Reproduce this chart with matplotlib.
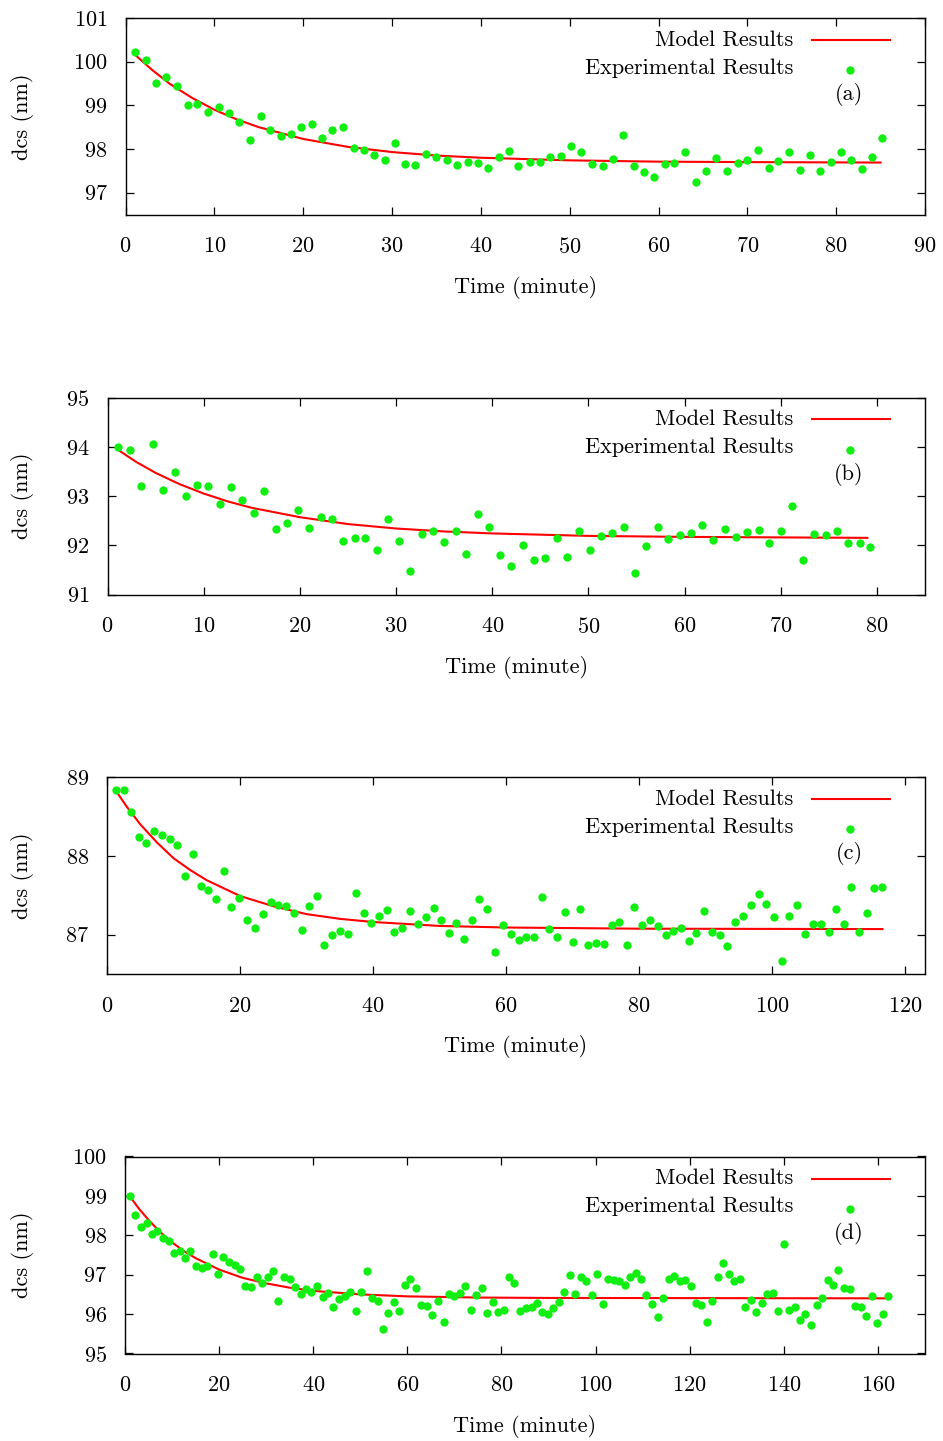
import numpy as np
import matplotlib
matplotlib.use("Agg")
import matplotlib.pyplot as plt

plt.rcParams['font.family'] = ['cmr10', 'DejaVu Serif']
plt.rcParams['mathtext.fontset'] = 'cm'
plt.rcParams['axes.unicode_minus'] = False
plt.rcParams['axes.formatter.use_mathtext'] = True

# ---- panel (a) ----
ta = [1.1, 2.3, 3.4, 4.6, 5.8, 7.0, 8.1, 9.3, 10.5, 11.6, 12.8, 14.0, 15.2, 16.3, 17.5,
      18.6, 19.8, 21.0, 22.1, 23.3, 24.5, 25.7, 26.8, 28.0, 29.2, 30.3, 31.5, 32.6, 33.8,
      35.0, 36.2, 37.3, 38.5, 39.7, 40.8, 42.0, 43.2, 44.2, 45.5, 46.7, 47.8, 49.0, 50.1,
      51.3, 52.5, 53.7, 54.9, 56.0, 57.2, 58.4, 59.5, 60.7, 61.8, 63.0, 64.2, 65.4, 66.5,
      67.7, 68.9, 70.0, 71.2, 72.4, 73.5, 74.7, 75.9, 77.1, 78.2, 79.4, 80.5, 81.7, 82.9,
      84.0, 85.2]
va = [100.21, 100.04, 99.51, 99.66, 99.45, 99.00, 99.03, 98.84, 98.96, 98.83, 98.61, 98.21,
      98.75, 98.44, 98.29, 98.35, 98.51, 98.58, 98.26, 98.44, 98.51, 98.02, 97.98, 97.87,
      97.75, 98.13, 97.66, 97.64, 97.89, 97.82, 97.74, 97.63, 97.71, 97.69, 97.57, 97.82,
      97.95, 97.62, 97.70, 97.70, 97.82, 97.83, 98.06, 97.92, 97.66, 97.62, 97.76, 98.33,
      97.60, 97.47, 97.37, 97.65, 97.67, 97.92, 97.24, 97.50, 97.79, 97.50, 97.67, 97.74,
      97.98, 97.57, 97.73, 97.94, 97.51, 97.86, 97.50, 97.71, 97.92, 97.74, 97.55, 97.82,
      98.25]
ma_t = [1, 3, 5, 7.5, 10, 12.5, 15, 20, 25, 30, 35, 40, 50, 60, 70, 85]
ma_v = [100.17, 99.81, 99.49, 99.17, 98.90, 98.68, 98.50, 98.23, 98.05, 97.93, 97.85,
        97.80, 97.74, 97.71, 97.70, 97.69]

# ---- panel (b) ----
tb = [1.1, 2.3, 3.5, 4.7, 5.8, 7.0, 8.2, 9.3, 10.5, 11.7, 12.8, 14.0, 15.2, 16.3, 17.5,
      18.7, 19.8, 21.0, 22.2, 23.3, 24.5, 25.7, 26.8, 28.0, 29.2, 30.3, 31.5, 32.7, 33.8,
      35.0, 36.2, 37.3, 38.5, 39.7, 40.8, 42.0, 43.2, 44.3, 45.5, 46.7, 47.8, 49.0, 50.2,
      51.3, 52.5, 53.7, 54.8, 56.0, 57.2, 58.3, 59.5, 60.7, 61.8, 63.0, 64.2, 65.3, 66.5,
      67.7, 68.8, 70.0, 71.2, 72.3, 73.5, 74.7, 75.8, 77.0, 78.2, 79.3]
vb = [94.00, 93.94, 93.21, 94.05, 93.12, 93.49, 93.00, 93.22, 93.20, 92.84, 93.19, 92.92,
      92.65, 93.11, 92.34, 92.46, 92.72, 92.36, 92.58, 92.53, 92.08, 92.15, 92.14, 91.91,
      92.54, 92.08, 91.47, 92.22, 92.28, 92.07, 92.28, 91.82, 92.63, 92.38, 91.81, 91.58,
      92.00, 91.71, 91.74, 92.15, 91.77, 92.28, 91.90, 92.18, 92.25, 92.38, 91.43, 91.98,
      92.37, 92.13, 92.20, 92.25, 92.42, 92.11, 92.34, 92.16, 92.26, 92.30, 92.04, 92.28,
      92.79, 91.71, 92.22, 92.20, 92.28, 92.04, 92.05, 91.96]
mb_t = [1, 3, 5, 7.5, 10, 12.5, 15, 20, 25, 30, 35, 40, 50, 60, 79]
mb_v = [93.95, 93.69, 93.47, 93.24, 93.05, 92.89, 92.76, 92.57, 92.43, 92.34, 92.28,
        92.24, 92.19, 92.17, 92.15]

# ---- panel (c) ----
tc = [1.3, 2.5, 3.6, 4.8, 5.9, 7.1, 8.3, 9.4, 10.6, 11.7, 12.9, 14.1, 15.2, 16.4, 17.6,
      18.7, 19.9, 21.1, 22.3, 23.4, 24.6, 25.7, 26.9, 28.1, 29.3, 30.4, 31.6, 32.7, 33.9,
      35.1, 36.3, 37.4, 38.6, 39.7, 40.9, 42.1, 43.2, 44.4, 45.6, 46.7, 47.9, 49.1, 50.2,
      51.4, 52.5, 53.7, 54.9, 56.0, 57.2, 58.4, 59.5, 60.7, 61.9, 63.0, 64.2, 65.4, 66.5,
      67.7, 68.8, 70.0, 71.1, 72.3, 73.5, 74.7, 75.9, 77.0, 78.2, 79.3, 80.5, 81.7, 82.8,
      84.0, 85.1, 86.3, 87.5, 88.6, 89.8, 91.0, 92.1, 93.3, 94.5, 95.6, 96.8, 98.0, 99.1,
      100.3, 101.5, 102.6, 103.8, 105.0, 106.1, 107.3, 108.5, 109.6, 110.8, 111.9, 113.1,
      114.3, 115.4, 116.6]
vc = [88.83, 88.83, 88.55, 88.24, 88.16, 88.32, 88.27, 88.21, 88.14, 87.74, 88.02, 87.62,
      87.56, 87.45, 87.81, 87.35, 87.47, 87.19, 87.09, 87.26, 87.42, 87.38, 87.36, 87.27,
      87.06, 87.36, 87.49, 86.87, 86.99, 87.05, 87.01, 87.53, 87.27, 87.15, 87.24, 87.31,
      87.03, 87.09, 87.30, 87.14, 87.22, 87.34, 87.19, 87.02, 87.15, 86.95, 87.18, 87.45,
      87.33, 86.78, 87.12, 87.01, 86.93, 86.97, 86.97, 87.48, 87.07, 86.97, 87.29, 86.90,
      87.32, 86.87, 86.89, 86.88, 87.12, 87.16, 86.87, 87.35, 87.12, 87.18, 87.11, 87.00,
      87.04, 87.08, 86.92, 87.02, 87.30, 87.03, 87.00, 86.86, 87.16, 87.23, 87.38, 87.51,
      87.39, 87.22, 86.66, 87.24, 87.38, 87.01, 87.14, 87.14, 87.03, 87.33, 87.13, 87.61,
      87.03, 87.27, 87.59, 87.60]
mc_t = [1.3, 3, 5, 7.5, 10, 12.5, 15, 20, 25, 30, 35, 40, 50, 60, 80, 116.6]
mc_v = [88.83, 88.62, 88.40, 88.17, 87.97, 87.82, 87.69, 87.49, 87.36, 87.26, 87.20,
        87.16, 87.11, 87.09, 87.075, 87.07]

# ---- panel (d) ----
td = [1.0, 2.2, 3.4, 4.6, 5.8, 6.9, 8.1, 9.3, 10.4, 11.7, 12.8, 13.9, 15.1, 16.3, 17.5,
      18.6, 19.8, 20.9, 22.1, 23.3, 24.5, 25.6, 26.8, 28.0, 29.1, 30.3, 31.5, 32.6, 33.8,
      35.0, 36.1, 37.3, 38.5, 39.6, 40.8, 42.0, 43.2, 44.3, 45.4, 46.7, 47.8, 49.0, 50.2,
      51.4, 52.5, 53.7, 54.8, 55.9, 57.1, 58.3, 59.5, 60.6, 61.8, 63.0, 64.1, 65.3, 66.5,
      67.7, 68.8, 70.0, 71.2, 72.3, 73.5, 74.6, 75.8, 77.0, 78.1, 79.3, 80.5, 81.6, 82.7,
      84.0, 85.2, 86.4, 87.5, 88.7, 89.9, 91.0, 92.2, 93.3, 94.5, 95.7, 96.8, 98.0, 99.2,
      100.3, 101.5, 102.7, 103.9, 105.0, 106.2, 107.4, 108.5, 109.7, 110.8, 112.0, 113.2,
      114.3, 115.5, 116.7, 117.9, 119.0, 120.2, 121.3, 122.5, 123.7, 124.8, 126.0, 127.1,
      128.3, 129.5, 130.7, 131.8, 133.0, 134.1, 135.4, 136.5, 137.7, 138.8, 140.0, 141.2,
      142.3, 143.5, 144.6, 145.8, 147.0, 148.2, 149.3, 150.4, 151.6, 152.8, 154.0, 155.2,
      156.3, 157.5, 158.7, 159.9, 161.1, 162.2]
vd = [99.00, 98.52, 98.20, 98.30, 98.04, 98.12, 97.94, 97.85, 97.55, 97.59, 97.43, 97.60,
      97.23, 97.16, 97.22, 97.52, 97.02, 97.46, 97.31, 97.24, 97.15, 96.71, 96.70, 96.94,
      96.80, 96.94, 97.10, 96.34, 96.94, 96.89, 96.70, 96.52, 96.63, 96.55, 96.72, 96.44,
      96.54, 96.18, 96.39, 96.46, 96.56, 96.08, 96.56, 97.10, 96.42, 96.34, 95.63, 96.04,
      96.30, 96.08, 96.75, 96.90, 96.66, 96.23, 96.21, 95.98, 96.34, 95.81, 96.52, 96.45,
      96.54, 96.72, 96.10, 96.48, 96.67, 96.04, 96.30, 96.06, 96.10, 96.94, 96.80,
      96.08, 96.16, 96.17, 96.28, 96.06, 95.99, 96.16, 96.30, 96.57, 97.00, 96.51, 96.94,
      96.83, 96.48, 97.02, 96.25, 96.89, 96.87, 96.85, 96.75, 96.95, 97.04, 96.90, 96.49,
      96.26, 95.93, 96.41, 96.89, 96.97, 96.83, 96.87, 96.72, 96.27, 96.24, 95.80, 96.33,
      96.94, 97.30, 97.03, 96.85, 96.88, 96.18, 96.37, 96.06, 96.28, 96.50, 96.54, 96.09,
      97.77, 96.10, 96.19, 95.85, 95.99, 95.73, 96.24, 96.42, 96.87, 96.74, 97.13, 96.65,
      96.63, 96.21, 96.18, 95.96, 96.46, 95.78, 95.99, 96.47]
md_t = [1, 3, 5, 7.5, 10, 12.5, 15, 20, 25, 30, 35, 40, 50, 60, 75, 90, 162.2]
md_v = [98.99, 98.67, 98.39, 98.08, 97.82, 97.60, 97.42, 97.13, 96.92, 96.78, 96.67,
        96.59, 96.50, 96.45, 96.42, 96.41, 96.40]

labels = ['(a)', '(b)', '(c)', '(d)']
xlims = [(0, 90), (0, 85), (0, 123), (0, 170)]
ylims = [(96.5, 101), (91, 95), (86.5, 89), (95, 100)]
xticks = [np.arange(0, 91, 10), np.arange(0, 81, 10), np.arange(0, 121, 20), np.arange(0, 161, 20)]
yticks = [np.arange(97, 102), np.arange(91, 96), np.arange(87, 90), np.arange(95, 101)]

W, H = 943, 1441
# axes boxes in pixels: left, right, top, bottom
boxes = [(125.5, 925, 18, 214.5), (107.5, 925, 397.5, 594.5),
         (107, 925, 777, 974), (125, 925, 1156.5, 1353.5)]

GREEN = '#11ee11'
FS = 16
fig = plt.figure(figsize=(W / 100, H / 100), dpi=100)

panels = [(ta, va, ma_t, ma_v), (tb, vb, mb_t, mb_v), (tc, vc, mc_t, mc_v), (td, vd, md_t, md_v)]
for i, (t, v, mt, mv) in enumerate(panels):
    l, r, top, bot = boxes[i]
    ax = fig.add_axes([l / W, 1 - bot / H, (r - l) / W, (bot - top) / H])
    ax.plot(mt, mv, color='#ff0000', lw=1.5, zorder=2)
    ax.plot(t, v, 'o', color=GREEN, ms=6, mec='none', zorder=3, clip_on=False)
    ax.set_xlim(*xlims[i])
    ax.set_ylim(*ylims[i])
    ax.set_xticks(xticks[i])
    ax.set_yticks(yticks[i])
    ax.tick_params(direction='in', length=5.8, width=0.9, top=True, right=True,
                   labelsize=FS)
    ax.tick_params(axis='x', pad=16)
    ax.tick_params(axis='y', pad=13)
    for s in ax.spines.values():
        s.set_linewidth(1.0)

    # y and x labels
    fig.text(22 / W, 1 - (top + bot) / 2 / H, 'dcs (nm)', rotation=90,
             ha='center', va='center', fontsize=FS)
    fig.text((l + r) / 2 / W, 1 - (bot + 73) / H, 'Time (minute)',
             ha='center', va='center', fontsize=FS)

    # key, gnuplot style
    fig.text(793 / W, 1 - (top + 22) / H, 'Model Results', ha='right', va='center', fontsize=FS)
    fig.text(793 / W, 1 - (top + 50) / H, 'Experimental Results', ha='right', va='center', fontsize=FS)
    ax.plot([812 / W, 890 / W], [1 - (top + 22) / H] * 2, color='#ff0000', lw=1.5,
            transform=fig.transFigure, clip_on=False)
    ax.plot([850 / W], [1 - (top + 52) / H], 'o', color=GREEN, ms=6, mec='none',
            transform=fig.transFigure, clip_on=False)
    fig.text(849 / W, 1 - (top + 77) / H, labels[i], ha='center', va='center', fontsize=FS)

fig.savefig('out.png', dpi=100)
